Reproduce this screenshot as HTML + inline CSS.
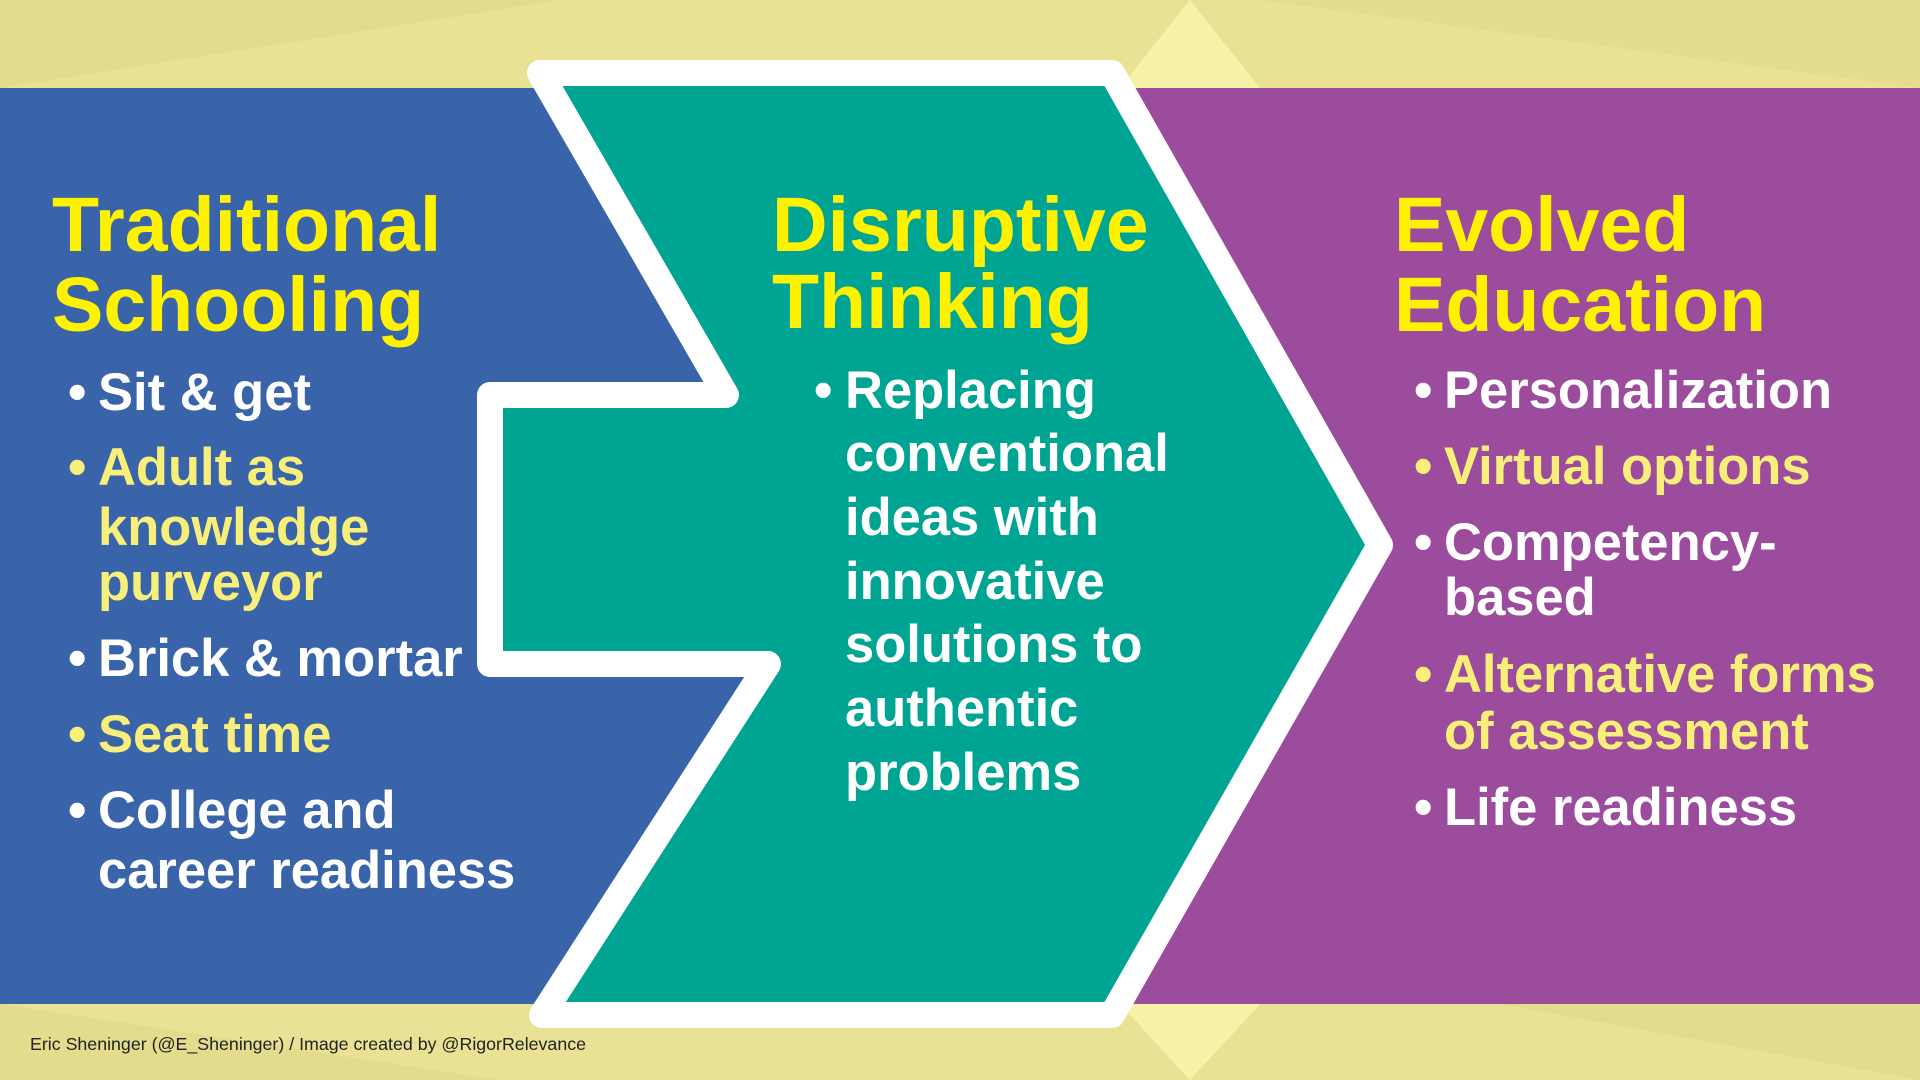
<!DOCTYPE html>
<html><head><meta charset="utf-8"><style>
html,body{margin:0;padding:0;}
body{width:1920px;height:1080px;overflow:hidden;background:#ebe496;}
svg{display:block;}
text{font-family:"Liberation Sans",Arial,sans-serif;font-weight:bold;}
</style></head><body>
<svg width="1920" height="1080" viewBox="0 0 1920 1080">
<rect x="0" y="0" width="1920" height="1080" fill="#e9e294"/>
<polygon points="0,0 560,0 0,88" fill="#e3dc8d"/>
<polygon points="1120,88 1190,0 1260,88" fill="#f8f2a8"/>
<polygon points="1260,0 1920,0 1920,88" fill="#e4dd8f"/>
<polygon points="1120,1004 1190,1080 1260,1004" fill="#f8f2a8"/>
<polygon points="0,1080 500,1080 0,1004" fill="#e3dc8d"/>
<polygon points="1500,1004 1920,1080 1920,1004" fill="#e3dc8d"/>
<rect x="0" y="88" width="820" height="916" fill="#3964a9"/>
<rect x="1000" y="88" width="920" height="916" fill="#9c4c9c"/>
<polygon points="540,73 1112,73 1380,545 1112,1015 542,1015 768,664 490,664 490,395 726,395"
 fill="#00a493" stroke="#ffffff" stroke-width="26" stroke-linejoin="round"/>

<g font-size="77" fill="#fff200">
<text x="52" y="251">Traditional</text>
<text x="52" y="331">Schooling</text>
<text x="772" y="251">Disruptive</text>
<text x="772" y="328">Thinking</text>
<text x="1394" y="251">Evolved</text>
<text x="1394" y="331">Education</text>
</g>

<g font-size="52.5">
<g fill="#ffffff"><text x="68" y="410">•</text><text x="98" y="410">Sit &amp; get</text></g>
<g fill="#f7ef7a"><text x="68" y="485">•</text><text x="98" y="485">Adult as</text><text x="98" y="545">knowledge</text><text x="98" y="600">purveyor</text></g>
<g fill="#ffffff"><text x="68" y="676">•</text><text x="98" y="676">Brick &amp; mortar</text></g>
<g fill="#f7ef7a"><text x="68" y="752">•</text><text x="98" y="752">Seat time</text></g>
<g fill="#ffffff"><text x="68" y="828">•</text><text x="98" y="828">College and</text><text x="98" y="888">career readiness</text></g>

<g fill="#ffffff">
<text x="814" y="408">•</text>
<text x="845" y="408">Replacing</text>
<text x="845" y="471">conventional</text>
<text x="845" y="535">ideas with</text>
<text x="845" y="599">innovative</text>
<text x="845" y="662">solutions to</text>
<text x="845" y="726">authentic</text>
<text x="845" y="790">problems</text>
</g>

<g fill="#ffffff"><text x="1414" y="408">•</text><text x="1444" y="408">Personalization</text></g>
<g fill="#f7ef7a"><text x="1414" y="484">•</text><text x="1444" y="484">Virtual options</text></g>
<g fill="#ffffff"><text x="1414" y="560">•</text><text x="1444" y="560">Competency-</text><text x="1444" y="615">based</text></g>
<g fill="#f7ef7a"><text x="1414" y="692">•</text><text x="1444" y="692">Alternative forms</text><text x="1444" y="749">of assessment</text></g>
<g fill="#ffffff"><text x="1414" y="825">•</text><text x="1444" y="825">Life readiness</text></g>
</g>

<text x="30" y="1050" font-size="17.8" fill="#222" style="font-weight:normal">Eric Sheninger (@E_Sheninger) / Image created by @RigorRelevance</text>
</svg>
</body></html>
